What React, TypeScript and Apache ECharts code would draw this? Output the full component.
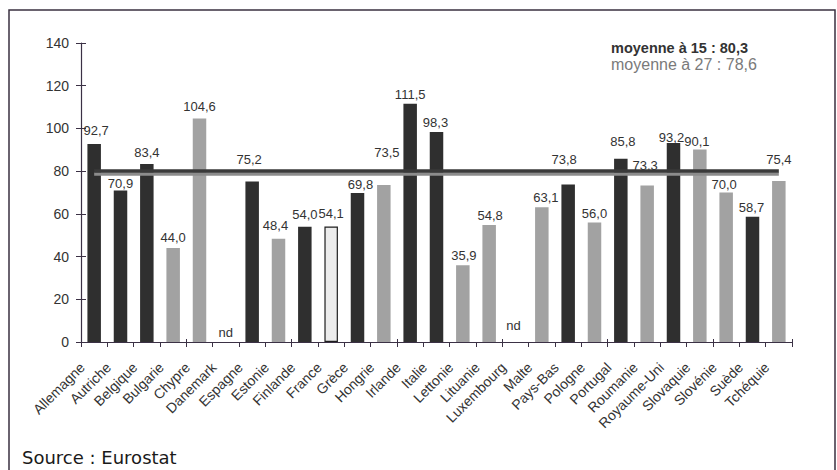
import React, { useEffect, useRef } from "react";
import * as echarts from "echarts";

const categories = [
  "Allemagne", "Autriche", "Belgique", "Bulgarie", "Chypre", "Danemark", "Espagne",
  "Estonie", "Finlande", "France", "Grèce", "Hongrie", "Irlande", "Italie", "Lettonie",
  "Lituanie", "Luxembourg", "Malte", "Pays-Bas", "Pologne", "Portugal", "Roumanie",
  "Royaume-Uni", "Slovaquie", "Slovénie", "Suède", "Tchéquie",
];
const values: (number | null)[] = [
  92.7, 70.9, 83.4, 44.0, 104.6, null, 75.2, 48.4, 54.0, 54.1, 69.8, 73.5, 111.5, 98.3,
  35.9, 54.8, null, 63.1, 73.8, 56.0, 85.8, 73.3, 93.2, 90.1, 70.0, 58.7, 75.4,
];
// ue15 = EU-15 member, nm = new member, fr = France
const groups = [
  "ue15", "ue15", "ue15", "nm", "nm", "ue15", "ue15", "nm", "ue15", "fr", "ue15", "nm",
  "ue15", "ue15", "nm", "nm", "ue15", "nm", "ue15", "nm", "ue15", "nm", "ue15", "nm",
  "nm", "ue15", "nm",
];
const mean15 = 80.3;
const mean27 = 78.6;
const mean15Label = "moyenne à 15 : 80,3";
const mean27Label = "moyenne à 27 : 78,6";
const sourceLabel = "Source : Eurostat";
const missingLabel = "nd";
const yMin = 0;
const yMax = 140;
const yInterval = 20;

// label nudges (dx, dy) in px, to mimic the original placement
const labelShift: Record<string, [number, number]> = {
  Allemagne: [2, -4], Autriche: [0, 2], Belgique: [0, -2], Bulgarie: [0, -1],
  Chypre: [0, -3], Danemark: [0, 0], Espagne: [-3, -12], Estonie: [-3, -4],
  Finlande: [0, -3], France: [0, -3], "Grèce": [3, 1], Hongrie: [3, -23],
  Irlande: [0, 0], Italie: [-1, 0], Lettonie: [1, 0], Lituanie: [1, 0],
  Luxembourg: [-2, -7], Malte: [4, 0], "Pays-Bas": [-4, -15], Pologne: [0, 1],
  Portugal: [2, -8], Roumanie: [-2, -10], "Royaume-Uni": [-2, 4], Slovaquie: [-3, 1],
  "Slovénie": [-2, 1], "Suède": [-1, 0], "Tchéquie": [0, -12],
};

const fmt = (v: number) => v.toFixed(1).replace(".", ",");

export default function App() {
  const ref = useRef<HTMLDivElement>(null);
  useEffect(() => {
    if (!ref.current) return;
    const chart = echarts.init(ref.current, null, { renderer: "svg" });
    const axisColor = "#3b3145";
    const fontFamily = "Arial, 'Liberation Sans', sans-serif";

    const barData = categories.map((c, i) => {
      const v = values[i];
      const g = groups[i];
      const color = g === "ue15" ? "#2f2f2f" : g === "fr" ? "#ececec" : "#a2a2a2";
      const shift = labelShift[c] || [0, 0];
      return {
        value: v === null ? 0 : v,
        itemStyle: {
          color,
          borderColor: g === "fr" ? "#1e1e1e" : color,
          borderWidth: g === "fr" ? 1.2 : 0,
        },
        label: {
          offset: shift,
          formatter: v === null ? missingLabel : fmt(v),
        },
      };
    });

    chart.setOption({
      animation: false,
      backgroundColor: "#ffffff",
      textStyle: { fontFamily },
      grid: { left: 81, right: 45, top: 43, bottom: 128, containLabel: false },
      xAxis: [
        {
          type: "category",
          data: categories,
          boundaryGap: true,
          axisLine: { show: true, lineStyle: { color: axisColor, width: 1.2 } },
          axisTick: { show: true, length: 5, lineStyle: { color: axisColor } },
          axisLabel: {
            interval: 0,
            rotate: 45,
            fontSize: 14,
            color: "#333",
            margin: 11,
            padding: [0, 17, 0, 0],
            fontFamily,
          },
        },
        {
          type: "category",
          data: categories,
          position: "bottom",
          boundaryGap: true,
          axisLine: { show: false },
          axisTick: { show: true, inside: true, length: 3, lineStyle: { color: axisColor } },
          axisLabel: { show: false },
        },
      ],
      yAxis: [
        {
          type: "value",
          min: yMin,
          max: yMax,
          interval: yInterval,
          axisLine: { show: true, lineStyle: { color: axisColor, width: 1.2 } },
          axisTick: { show: true, length: 5, lineStyle: { color: axisColor } },
          splitLine: { show: false },
          axisLabel: { fontSize: 14, color: "#333", margin: 12, fontFamily },
        },
        {
          type: "value",
          min: yMin,
          max: yMax,
          interval: yInterval,
          position: "left",
          axisLine: { show: false },
          axisTick: { show: true, inside: true, length: 5, lineStyle: { color: axisColor } },
          splitLine: { show: false },
          axisLabel: { show: false },
        },
      ],
      series: [
        {
          type: "bar",
          data: barData,
          barWidth: 13.5,
          xAxisIndex: 0,
          yAxisIndex: 0,
          label: {
            show: true,
            position: "top",
            distance: 3,
            fontSize: 13,
            color: "#333",
            fontFamily,
          },
          markLine: {
            silent: true,
            symbol: "none",
            label: { show: false },
            data: [
              [
                { coord: [0, mean27], lineStyle: { color: "#8c8c8c", width: 3.5, type: "solid" } },
                { coord: [categories.length - 1, mean27] },
              ],
              [
                { coord: [0, mean15], lineStyle: { color: "#3a3a3a", width: 3.5, type: "solid" } },
                { coord: [categories.length - 1, mean15] },
              ],
            ],
          },
        },
      ],
      graphic: [
        {
          type: "rect",
          shape: { x: 9, y: 10, width: 826, height: 480 },
          style: { fill: "none", stroke: "#3a3040", lineWidth: 1.5 },
          silent: true,
        },
        {
          type: "text",
          left: 611,
          top: 40,
          style: {
            text: mean15Label,
            fontSize: 14.5,
            fontWeight: "bold",
            fill: "#333333",
            fontFamily,
          },
        },
        {
          type: "text",
          left: 611,
          top: 56,
          style: {
            text: mean27Label,
            fontSize: 16,
            fill: "#7a7a7a",
            fontFamily,
          },
        },
        {
          type: "text",
          left: 22,
          top: 448,
          style: {
            text: sourceLabel,
            fontSize: 18,
            fill: "#1a1a1a",
            fontFamily: "'DejaVu Sans', Verdana, sans-serif",
          },
        },
      ],
    });
    return () => chart.dispose();
  }, []);
  return (
    <div
      ref={ref}
      style={{ position: "absolute", left: 0, top: 0, width: 837, height: 470, background: "#fff" }}
    />
  );
}
